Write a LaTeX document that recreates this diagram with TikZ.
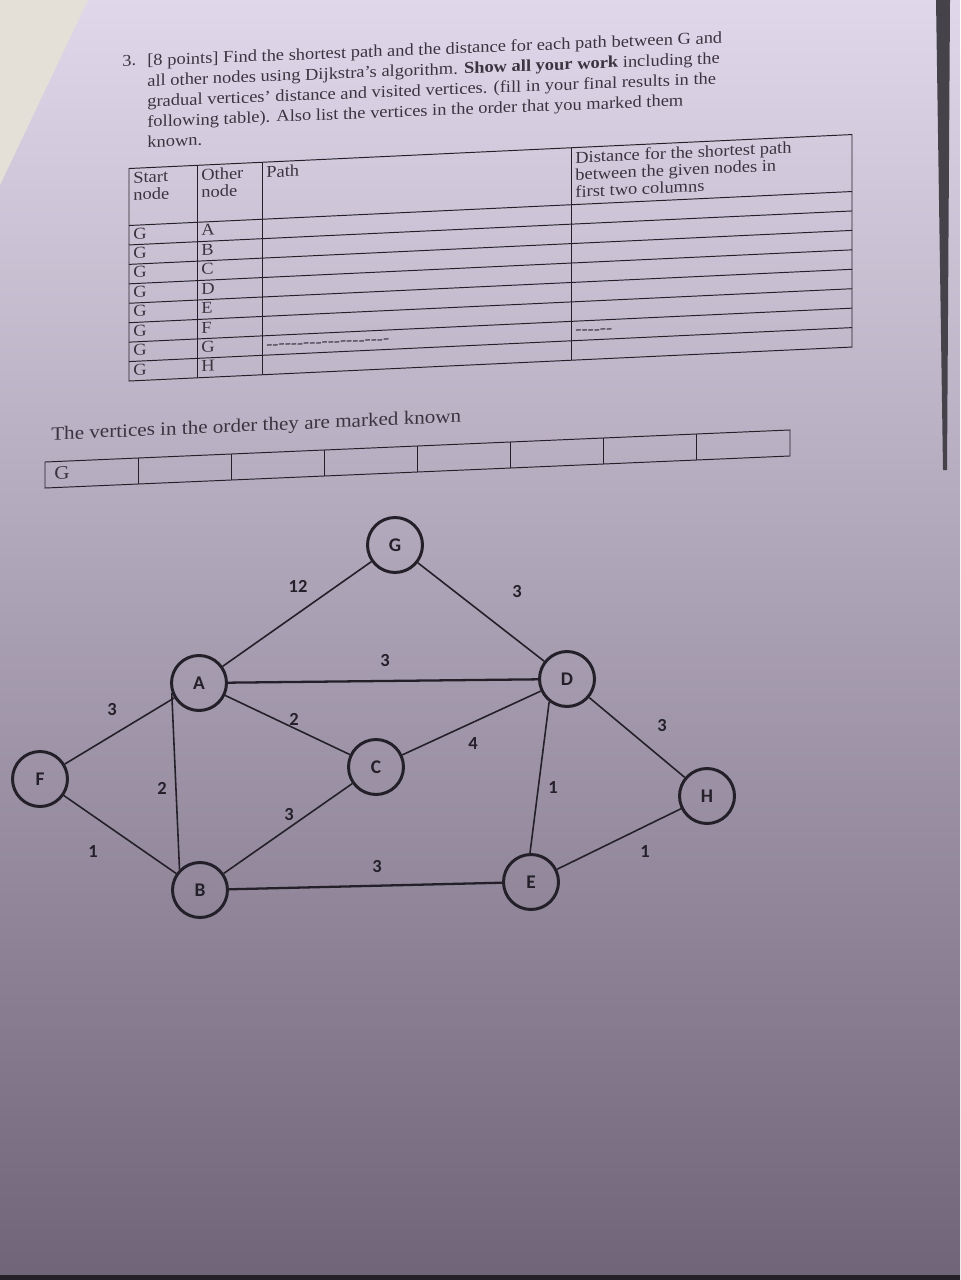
\documentclass[tikz,border=0pt]{standalone}
\usepackage{fontspec}
\setmainfont{Liberation Serif}
\newfontfamily\graphfont{Carlito}
\usepackage{tikz}

\definecolor{ink}{RGB}{36,32,42}
\definecolor{print}{RGB}{58,52,64}
\definecolor{papertop}{RGB}{224,216,234}
\definecolor{papermid}{RGB}{193,184,206}
\definecolor{paperbot}{RGB}{112,100,120}
\definecolor{undersheet}{RGB}{228,224,216}

\tikzset{
  vertex/.style={circle, draw=ink, line width=1.7pt, minimum size=1.1cm, inner sep=0pt,
    text=ink, font=\graphfont\bfseries\fontsize{11}{13}\selectfont},
  weight/.style={text=ink, inner sep=1pt, font=\graphfont\bfseries\fontsize{10.5}{12}\selectfont},
  link/.style={draw=ink, line width=0.9pt},
  heavy link/.style={link, line width=1.3pt},
  rule/.style={draw=ink, line width=0.55pt},
  cell/.style={anchor=west, inner sep=0pt, text height=2.6mm, text depth=0.8mm, text=print,
    font=\fontsize{10.5}{10.8}\selectfont},
  head/.style={anchor=north west, inner sep=0pt, align=left, text=print,
    font=\fontsize{10.5}{10.8}\selectfont},
}

\begin{document}
\begin{tikzpicture}[x=0.02cm, y=-0.02cm]
\useasboundingbox (0,0) rectangle (960,1280);
% the sheet
\shade[top color=papertop, middle color=papermid, bottom color=paperbot] (0,0) rectangle (960,1280);
\fill[undersheet] (0,0) -- (88,0) -- (0,185) -- cycle;
\fill[ink!85] (936,0) -- (950,0) -- (947,470) -- (943,470) -- cycle;
\fill[ink] (0,1275) rectangle (960,1280);

% question
\begin{scope}[cm={1,0.04,0,0.9,(0,0)}, transform shape]
  \node[anchor=base west, inner sep=0pt, text=print, font=\fontsize{10.5}{12}\selectfont] (num) at (122,79) {3.};
  \node[anchor=north west, inner sep=0pt, align=left, text=print,
    font=\fontsize{10.5}{12.9}\selectfont] (task) at (147,66.5) {%
    [8 points] Find the shortest path and the distance for each path between G and\\
    all other nodes using Dijkstra’s algorithm. \textbf{Show all your work} including the\\
    gradual vertices’ distance and visited vertices. (fill in your final results in the\\
    following table). Also list the vertices in the order that you marked them\\
    known.};
\end{scope}

% result table
\begin{scope}[cm={1,0.047,0,0.9,(0,0)}, transform shape]
  \draw[rule] (129,194) rectangle (852,430.1);
  \foreach \x in {197,262,571}
    \draw[rule] (\x,194) -- (\x,430.1);
  \foreach \i in {0,...,7}
    \draw[rule] (129,257.3+21.6*\i) -- (852,257.3+21.6*\i);
  \node[head] (hstart) at (133,198) {Start\\node};
  \node[head] (hother) at (201,198) {Other\\node};
  \node[head] (hpath) at (266,198) {Path};
  \node[head] (hdist) at (575,198) {Distance for the shortest path\\between the given nodes in\\first two columns};
  \foreach \v [count=\i] in {A,B,C,D,E,F,G,H} {
    \node[cell] (s\i) at (133,246.5+21.6*\i) {G};
    \node[cell] (o\i) at (201,246.5+21.6*\i) {\v};
  }
  \node[cell] (pathG) at (266,397.7) {-{}-{}-{}-{}-{}-{}-{}-{}-{}-{}-{}-{}-{}-{}-{}-{}-{}-{}-{}-};
  \node[cell] (distG) at (575,397.7) {-{}-{}-{}-{}-{}-};
\end{scope}

% order of known vertices
\begin{scope}[cm={1,0.043,0,0.9,(0,0)}, transform shape]
  \node[anchor=base west, inner sep=0pt, text=print, font=\fontsize{12}{14}\selectfont] (order) at (51,491.4)
    {The vertices in the order they are marked known};
  \draw[rule] (45,515.5) rectangle (790,544.4);
  \foreach \i in {1,...,7}
    \draw[rule] (45+93.1*\i,515.5) -- (45+93.1*\i,544.4);
  \node[cell, font=\fontsize{12}{14}\selectfont, text height=3mm, text depth=0.9mm] (k1) at (54,530) {G};
\end{scope}

% graph
\node[vertex] (G) at (395,545) {G};
\node[vertex] (A) at (199,683) {A};
\node[vertex] (D) at (567,679) {D};
\node[vertex] (F) at (40,779) {F};
\node[vertex] (C) at (376,767) {C};
\node[vertex] (H) at (707,796) {H};
\node[vertex] (B) at (200,890) {B};
\node[vertex] (E) at (531,882) {E};

\draw[link] (G) -- (A);
\draw[link] (G) -- (D);
\draw[heavy link] (A) -- (D);
\draw[link] (F) -- (A);
\draw[link] (A) -- (C);
\draw[link] (C) -- (D);
\draw[link] (D) -- (H);
\draw[link] (A.200) -- (B.135);
\draw[link] (D.232) -- (E.92);
\draw[link] (B) -- (C);
\draw[link] (F) -- (B);
\draw[heavy link] (B) -- (E);
\draw[link] (E) -- (H);

% weights
\node[weight] (wGA) at (298,586) {12};
\node[weight] (wGD) at (517,592) {3};
\node[weight] (wAD) at (385,661) {3};
\node[weight] (wFA) at (112,710) {3};
\node[weight] (wAC) at (294,719) {2};
\node[weight] (wCD) at (473,744) {4};
\node[weight] (wDH) at (662,726) {3};
\node[weight] (wAB) at (162,788) {2};
\node[weight] (wDE) at (553,788) {1};
\node[weight] (wBC) at (289,815) {3};
\node[weight] (wFB) at (93,852) {1};
\node[weight] (wBE) at (377,867) {3};
\node[weight] (wEH) at (645,852) {1};
\end{tikzpicture}
\end{document}
